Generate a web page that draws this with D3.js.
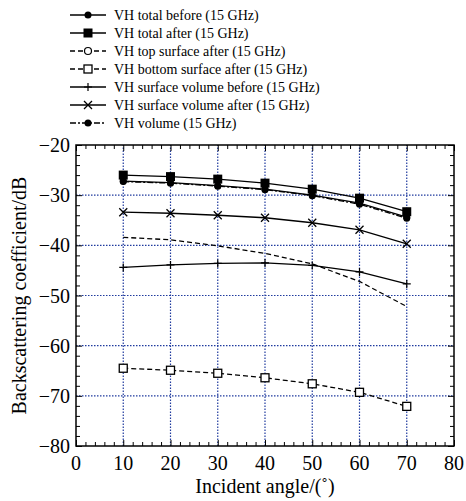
<!DOCTYPE html>
<html>
<head>
<meta charset="utf-8">
<script src="https://cdn.jsdelivr.net/npm/d3@7"></script>
<style>
  body { margin: 0; background: #fff; }
  text { font-family: "Liberation Serif", "Times New Roman", serif; }
</style>
</head>
<body>
<div id="chart"></div>
<script>
// incident angles and series values (dB)
const angles = [10, 20, 30, 40, 50, 60, 70];
const totalBefore = [-27.2, -27.5, -28.1, -28.8, -30.0, -31.6, -34.4];
const totalAfter = [-26.0, -26.3, -26.8, -27.6, -28.8, -30.6, -33.3];
const topSurfaceAfter = [-38.4, -38.9, -40.1, -41.6, -43.7, -47.2, -52.2];
const bottomSurfaceAfter = [-64.5, -64.9, -65.5, -66.4, -67.6, -69.3, -72.1];
const surfVolBefore = [-44.4, -43.9, -43.6, -43.5, -44.0, -45.3, -47.7];
const surfVolAfter = [-33.4, -33.6, -34.0, -34.5, -35.5, -36.9, -39.7];
const volume = [-27.3, -27.6, -28.2, -28.9, -30.1, -31.8, -34.6];
const xTicks = [0, 10, 20, 30, 40, 50, 60, 70, 80];
const yTicks = [-80, -70, -60, -50, -40, -30, -20];

const series = [
  {name: "VH total before (15 GHz)", values: totalBefore, dash: null, marker: "dot", show: true},
  {name: "VH total after (15 GHz)", values: totalAfter, dash: null, marker: "square", show: true},
  {name: "VH top surface after (15 GHz)", values: topSurfaceAfter, dash: "5,3", marker: "ocircle", show: false},
  {name: "VH bottom surface after (15 GHz)", values: bottomSurfaceAfter, dash: "5,3", marker: "osquare", show: true},
  {name: "VH surface volume before (15 GHz)", values: surfVolBefore, dash: null, marker: "plus", show: true},
  {name: "VH surface volume after (15 GHz)", values: surfVolAfter, dash: null, marker: "cross", show: true},
  {name: "VH volume (15 GHz)", values: volume, dash: "6,2,2,2", marker: "dot", show: true}
];

const width = 466, height = 501,
    margin = ({top: 145, right: 12, bottom: 55, left: 76});

const svg = d3.select("#chart")
    .append("svg")
    .attr("width", width)
    .attr("height", height);

const x = d3.scaleLinear()
    .domain([0, 80])
    .range([margin.left, width - margin.right]);

const y = d3.scaleLinear()
    .domain([-80, -20])
    .range([height - margin.bottom, margin.top]);

// grid
const gridColor = "#1f3a9e";
svg.append("g")
    .selectAll("line")
    .data(xTicks.slice(1, -1))
    .join("line")
    .attr("x1", d => x(d)).attr("x2", d => x(d))
    .attr("y1", y(-80)).attr("y2", y(-20))
    .attr("stroke", gridColor)
    .attr("stroke-width", 1.2)
    .attr("stroke-dasharray", "1.5,1.5");

svg.append("g")
    .selectAll("line")
    .data(yTicks.slice(1, -1))
    .join("line")
    .attr("y1", d => y(d)).attr("y2", d => y(d))
    .attr("x1", x(0)).attr("x2", x(80))
    .attr("stroke", gridColor)
    .attr("stroke-width", 1.2)
    .attr("stroke-dasharray", "1.5,1.5");

// axes, ticks pointing inward on all four sides
const minorX = d3.range(0, 81, 2), minorY = d3.range(-80, -19, 2);
const tickLen = d => (d % 10 === 0 ? 6 : 4);

svg.append("g")
    .attr("transform", `translate(0,${y(-80)})`)
    .call(d3.axisBottom(x).tickValues(minorX).tickSize(0).tickFormat(""))
    .call(g => g.selectAll(".tick line").attr("y2", d => -tickLen(d)).attr("stroke", "#000"))
    .call(g => g.select(".domain").remove());

svg.append("g")
    .attr("transform", `translate(0,${y(-20)})`)
    .call(d3.axisTop(x).tickValues(minorX).tickSize(0).tickFormat(""))
    .call(g => g.selectAll(".tick line").attr("y2", d => tickLen(d)).attr("stroke", "#000"))
    .call(g => g.select(".domain").remove());

svg.append("g")
    .attr("transform", `translate(${x(0)},0)`)
    .call(d3.axisLeft(y).tickValues(minorY).tickSize(0).tickFormat(""))
    .call(g => g.selectAll(".tick line").attr("x2", d => tickLen(d)).attr("stroke", "#000"))
    .call(g => g.select(".domain").remove());

svg.append("g")
    .attr("transform", `translate(${x(80)},0)`)
    .call(d3.axisRight(y).tickValues(minorY).tickSize(0).tickFormat(""))
    .call(g => g.selectAll(".tick line").attr("x2", d => -tickLen(d)).attr("stroke", "#000"))
    .call(g => g.select(".domain").remove());

svg.append("rect")
    .attr("x", x(0)).attr("y", y(-20))
    .attr("width", x(80) - x(0)).attr("height", y(-80) - y(-20))
    .attr("fill", "none").attr("stroke", "#000").attr("stroke-width", 1.5);

// tick labels
svg.append("g")
    .selectAll("text")
    .data(xTicks)
    .join("text")
    .attr("x", d => x(d))
    .attr("y", y(-80) + 24)
    .attr("text-anchor", "middle")
    .attr("font-size", 20)
    .text(d => d);

svg.append("g")
    .selectAll("text")
    .data(yTicks)
    .join("text")
    .attr("x", x(0) - 6)
    .attr("y", d => y(d) + 7)
    .attr("text-anchor", "end")
    .attr("font-size", 20)
    .text(d => "\u2212" + Math.abs(d));

svg.append("text")
    .attr("x", (x(0) + x(80)) / 2)
    .attr("y", height - 8)
    .attr("text-anchor", "middle")
    .attr("font-size", 20)
    .text("Incident angle/(\u02da)");

svg.append("text")
    .attr("transform", `translate(26,${(y(-20) + y(-80)) / 2}) rotate(-90)`)
    .attr("text-anchor", "middle")
    .attr("font-size", 20)
    .text("Backscattering coefficient/dB");

// markers
function drawMarker(g, type, cx, cy) {
  if (type === "dot") {
    g.append("circle").attr("cx", cx).attr("cy", cy).attr("r", 3.5).attr("fill", "#000");
  } else if (type === "ocircle") {
    g.append("circle").attr("cx", cx).attr("cy", cy).attr("r", 3.5)
        .attr("fill", "#fff").attr("stroke", "#000").attr("stroke-width", 1.2);
  } else if (type === "square") {
    g.append("rect").attr("x", cx - 4.5).attr("y", cy - 4.5).attr("width", 9).attr("height", 9).attr("fill", "#000");
  } else if (type === "osquare") {
    g.append("rect").attr("x", cx - 4).attr("y", cy - 4).attr("width", 8).attr("height", 8)
        .attr("fill", "#fff").attr("stroke", "#000").attr("stroke-width", 1.3);
  } else if (type === "plus") {
    g.append("path").attr("d", `M${cx - 4},${cy}H${cx + 4}M${cx},${cy - 4}V${cy + 4}`)
        .attr("stroke", "#000").attr("stroke-width", 1.2);
  } else if (type === "cross") {
    g.append("path").attr("d", `M${cx - 4},${cy - 4}L${cx + 4},${cy + 4}M${cx - 4},${cy + 4}L${cx + 4},${cy - 4}`)
        .attr("stroke", "#000").attr("stroke-width", 1.3);
  }
}

const line = d3.line()
    .x((d, i) => x(angles[i]))
    .y(d => y(d));

// draw lower series first so the top ones sit above
const drawOrder = [3, 4, 2, 5, 6, 0, 1];
for (const idx of drawOrder) {
  const s = series[idx];
  const g = svg.append("g");
  g.append("path")
      .attr("d", line(s.values))
      .attr("fill", "none")
      .attr("stroke", "#000")
      .attr("stroke-width", 1.3)
      .attr("stroke-dasharray", s.dash);
  if (s.show) {
    s.values.forEach((v, i) => drawMarker(g, s.marker, x(angles[i]), y(v)));
  }
}

// legend
const legend = svg.append("g");
series.forEach((s, i) => {
  const ly = 15 + i * 18;
  legend.append("line")
      .attr("x1", 70).attr("x2", 106)
      .attr("y1", ly).attr("y2", ly)
      .attr("stroke", "#000")
      .attr("stroke-width", 1.3)
      .attr("stroke-dasharray", s.dash);
  drawMarker(legend, s.marker, 88, ly);
  legend.append("text")
      .attr("x", 114)
      .attr("y", ly + 5)
      .attr("font-size", 14)
      .text(s.name);
});
</script>
</body>
</html>
